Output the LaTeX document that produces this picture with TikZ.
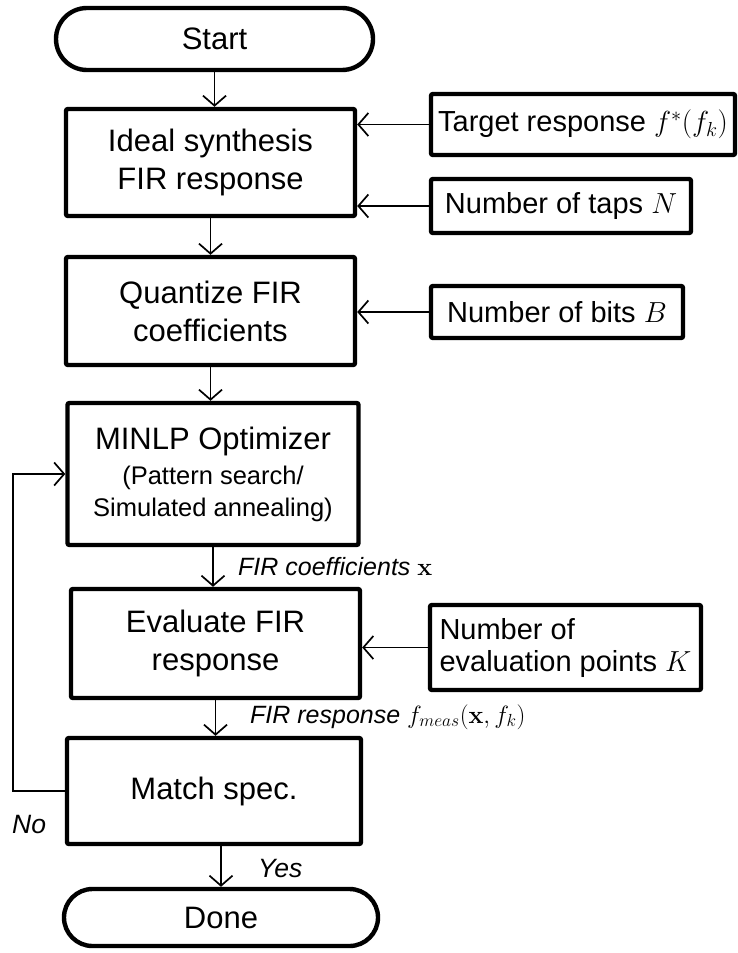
\RequirePackage{fix-cm}
\documentclass[tikz,border=0pt]{standalone}
\usepackage[no-math]{fontspec}
\setmainfont{Liberation Sans}
\usetikzlibrary{arrows.meta}
\begin{document}
\begin{tikzpicture}[x=1pt,y=-1pt,
  box/.style={draw, line width=4.4pt, rounded corners=2pt, align=center, inner sep=0pt, font=\fontsize{31}{38}\selectfont},
  term/.style={draw, line width=4.4pt, inner sep=0pt, font=\fontsize{31}{38}\selectfont},
  inbox/.style={draw, line width=4.4pt, rounded corners=2pt, inner sep=0pt, align=left, font=\fontsize{29}{32}\selectfont},
  conn/.style={line width=1.7pt, -{Straight Barb[length=10pt,width=23pt]}},
  lbl/.style={font=\fontsize{25}{30}\selectfont\itshape, inner sep=0pt},
  yn/.style={font=\fontsize{26.5}{30}\selectfont\itshape, inner sep=0pt}]
\useasboundingbox (0,0) rectangle (738,953);
% main column
\node[term, minimum width=317pt, minimum height=62pt, rounded corners=31pt] (start) at (214.5,39) {Start};
\node[box, minimum width=289pt, minimum height=107pt] (ideal) at (210.5,162.5) {Ideal synthesis\\FIR response};
\node[box, minimum width=289pt, minimum height=108pt] (quant) at (210.5,311) {Quantize FIR\\coefficients};
\node[box, minimum width=291pt, minimum height=142pt] (minlp) at (213,474) {MINLP Optimizer\\[-3pt]{\fontsize{25.5}{31}\selectfont (Pattern search/}\\[-6pt]{\fontsize{25.5}{31}\selectfont Simulated annealing)}};
\node[box, minimum width=289pt, minimum height=109pt] (eval) at (215.5,643.5) {Evaluate FIR\\response};
\node[box, minimum width=294pt, minimum height=106pt] (match) at (214,791) {Match spec.};
\node[term, minimum width=314pt, minimum height=57pt, rounded corners=28.5pt] (done) at (221,917.5) {Done};
% inputs
\node[inbox, minimum width=304pt, minimum height=61pt] (target) at (583,124.5) {Target response $f^*(f_k)$};
\node[inbox, minimum width=260pt, minimum height=54pt] (taps) at (561,206) {Number of taps $N$};
\node[inbox, minimum width=252pt, minimum height=52pt] (bits) at (557,312) {Number of bits $B$};
\node[inbox, minimum width=271pt, minimum height=85pt] (kpts) at (565.5,647.5) {Number of\\evaluation points $K$};
% labels
\node[lbl, anchor=base west] (lcoef) at (238,575) {FIR coefficients $\mathbf{x}$};
\node[lbl, anchor=base west] (lresp) at (250,723) {FIR response $f_{meas}(\mathbf{x}, f_k)$};
\node[yn, anchor=base west] (lno) at (12,833) {No};
\node[yn, anchor=base west] (lyes) at (258,877) {Yes};
% connectors
\draw[conn] (start.south) -- (start.south |- ideal.north);
\draw[conn] (ideal.south) -- (quant.north);
\draw[conn] (quant.south) -- (quant.south |- minlp.north);
\draw[conn] (minlp.south) -- (minlp.south |- eval.north);
\draw[conn] (eval.south) -- (eval.south |- match.north);
\draw[conn] (match.south -| done.north) -- (done.north);
\draw[conn] (target.west) -- (target.west -| ideal.east);
\draw[conn] (taps.west) -- (taps.west -| ideal.east);
\draw[conn] (bits.west) -- (bits.west -| quant.east);
\draw[conn] (kpts.west) -- (kpts.west -| eval.east);
\draw[conn] (match.west) -- ++(-52,0) |- (minlp.west);
\end{tikzpicture}
\end{document}
